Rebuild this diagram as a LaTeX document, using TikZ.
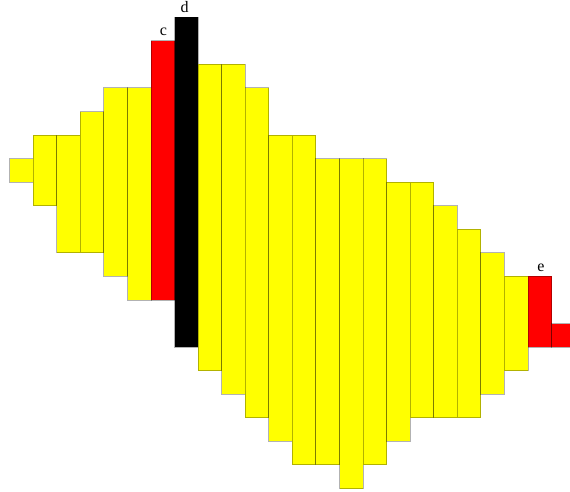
\documentclass[tikz,border=0pt]{standalone}
\usepackage{fontspec}
\setmainfont{Liberation Serif}
\definecolor{ylw}{RGB}{255,255,0}
\definecolor{rd}{RGB}{255,0,0}
\definecolor{blk}{RGB}{0,0,0}
\begin{document}
\begin{tikzpicture}[x=1bp,y=-1bp,
  bar/.style={draw=blk,draw opacity=0.3,line width=1bp},
  lbl/.style={anchor=base,inner sep=0pt,font=\fontsize{16bp}{19bp}\selectfont}]
\useasboundingbox (0,0) rectangle (570,492);
\clip (0,0) rectangle (570,492);
\def\xo{9.7}\def\yo{17.3}\def\u{23.56}
\foreach \i/\t/\b/\c in {0/6/7/ylw,1/5/8/ylw,2/5/10/ylw,3/4/10/ylw,4/3/11/ylw,5/3/12/ylw,6/1/12/rd,7/0/14/blk,8/2/15/ylw,9/2/16/ylw,10/3/17/ylw,11/5/18/ylw,12/5/19/ylw,13/6/19/ylw,14/6/20/ylw,15/6/19/ylw,16/7/18/ylw,17/7/17/ylw,18/8/17/ylw,19/9/17/ylw,20/10/16/ylw,21/11/15/ylw,22/11/14/rd,23/13/14/rd}
  \path[bar,fill=\c] ({\xo+\i*\u},{\yo+\t*\u}) rectangle ({\xo+(\i+1)*\u},{\yo+\b*\u});
\node[lbl] (c) at (163.5,35.5) {c};
\node[lbl] (d) at (184.5,12.5) {d};
\node[lbl] (e) at (541,271) {e};
\end{tikzpicture}
\end{document}
